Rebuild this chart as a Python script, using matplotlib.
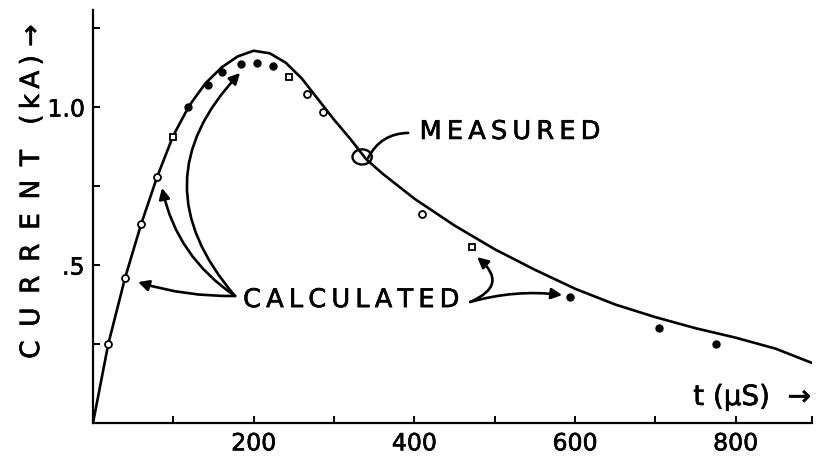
import numpy as np
import matplotlib.pyplot as plt
from matplotlib.patches import Ellipse
import matplotlib.patheffects as pe

# measured current pulse (kA) vs time (us)
t_meas = [0, 19, 40, 60, 80, 100, 120, 140, 160, 180, 200, 220, 240, 260, 280,
          300, 320, 340, 360, 400, 450, 500, 550, 600, 650, 700, 750, 800, 850, 895]
i_meas = [0, 0.25, 0.46, 0.63, 0.78, 0.91, 1.005, 1.075, 1.125, 1.16, 1.178, 1.17,
          1.14, 1.09, 1.025, 0.96, 0.9, 0.835, 0.79, 0.71, 0.625, 0.55, 0.485,
          0.425, 0.375, 0.335, 0.30, 0.27, 0.235, 0.19]

# calculated points, by marker style
t_circ = [19, 40, 60, 80, 266, 286, 409]
i_circ = [0.25, 0.46, 0.63, 0.78, 1.04, 0.985, 0.66]
t_sq = [100, 244, 472]
i_sq = [0.905, 1.095, 0.557]
t_dot = [118, 143, 161, 184, 204, 224, 594, 704, 776]
i_dot = [1.0, 1.07, 1.11, 1.136, 1.14, 1.13, 0.40, 0.30, 0.25]

xticks = [100, 200, 300, 400, 500, 600, 700, 800, 895]
xlabels = ['', '200', '', '400', '', '600', '', '800', '']
yticks = [0.25, 0.5, 0.75, 1.0, 1.25]
ylabels = ['', '.5', '', '1.0', '']

ts = '\u2009'
def spaced(s, sep=ts):
    return sep.join(s)

ink = [pe.withStroke(linewidth=0.45, foreground='black')]

fig = plt.figure(figsize=(8.18, 4.61), dpi=100)
ax = fig.add_axes([93/818, 38/461, 719/818, 413/461])
ax.set_xlim(0, 895)
ax.set_ylim(0, 1.307)

ax.plot(t_meas, i_meas, color='black', lw=1.9, zorder=3)
ax.plot(t_circ, i_circ, 'o', ms=5, mfc='white', mec='black', mew=1.3, zorder=4)
ax.plot(t_sq, i_sq, 's', ms=5, mfc='white', mec='black', mew=1.3, zorder=4)
ax.plot(t_dot, i_dot, 'o', ms=5, color='black', zorder=4)

for s in ['top', 'right']:
    ax.spines[s].set_visible(False)
for s in ['left', 'bottom']:
    ax.spines[s].set_linewidth(1.6)

ax.set_xticks(xticks)
ax.set_xticklabels(xlabels)
ax.set_yticks(yticks)
ax.set_yticklabels(ylabels)
ax.tick_params(direction='in', length=5, width=1.4, labelsize=17, pad=6)
for lab in ax.get_xticklabels() + ax.get_yticklabels():
    lab.set_path_effects(ink)

arrow = dict(arrowstyle='-|>', lw=1.9, color='black', mutation_scale=16,
             shrinkA=0, shrinkB=0)

# left group of "calculated" pointers
start_l = (176.8, 0.402)
for tip, rad in [((56.0, 0.446), -0.08), ((85.9, 0.744), -0.2), ((183.1, 1.108), -0.45)]:
    ax.annotate('', xy=tip, xytext=start_l,
                arrowprops=dict(arrow, connectionstyle='arc3,rad=%s' % rad))

# right group
start_r = (469.5, 0.383)
for tip, rad in [((478.2, 0.525), 0.8), ((584.1, 0.405), -0.1)]:
    ax.annotate('', xy=tip, xytext=start_r,
                arrowprops=dict(arrow, connectionstyle='arc3,rad=%s' % rad))

# "measured" leader and loop
ax.annotate('', xy=(342.5, 0.839), xytext=(392.3, 0.918),
            arrowprops=dict(arrowstyle='-', lw=1.9, color='black',
                            shrinkA=0, shrinkB=0,
                            connectionstyle='arc3,rad=0.3'))
ax.add_patch(Ellipse((335, 0.842), 24, 0.048, fill=False,
                     lw=1.7, color='black', zorder=5))

ax.text(406.5, 0.921, spaced('MEASURED'), fontsize=18.5, ha='left', va='center',
        path_effects=ink)
ax.text(186.8, 0.389, spaced('CALCULATED'), fontsize=18.5, ha='left', va='center',
        path_effects=ink)

fig.text(32/818, 1 - 192/461,
         spaced('CURRENT', ' \u2009') + '   ' + spaced('(kA)') + ' \u2192',
         fontsize=19, rotation=90, ha='center', va='center', path_effects=ink)
fig.text(752/818, 1 - 397/461, 't (\u03bcS)  \u2192', fontsize=20,
         ha='center', va='center', path_effects=ink)

fig.savefig('out.png', dpi=100)
